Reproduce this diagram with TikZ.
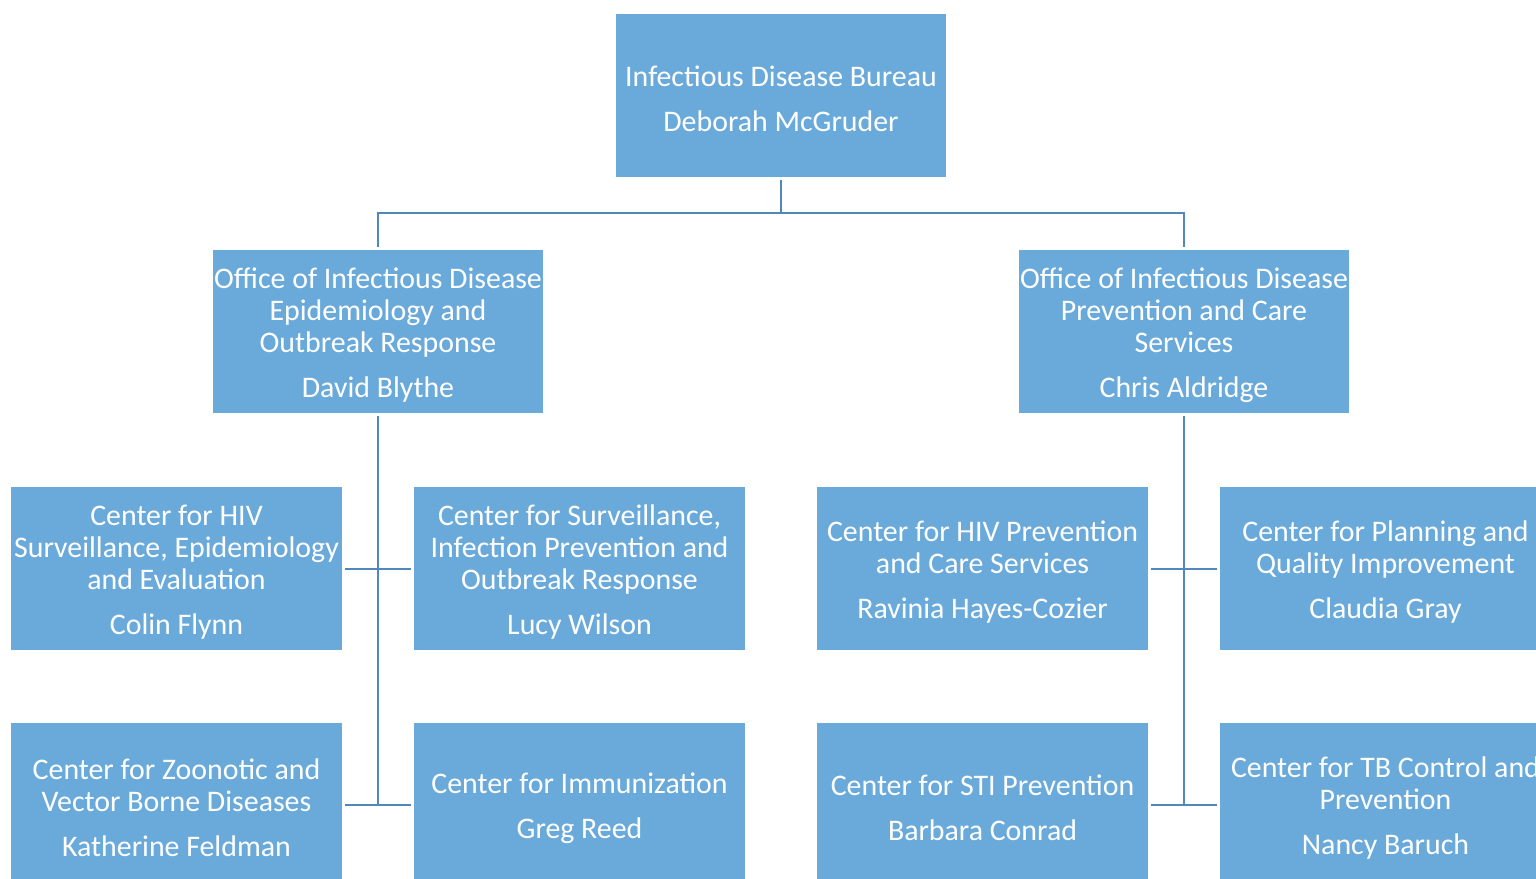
\documentclass[tikz,border=0pt]{standalone}
\usepackage{fontspec}
\setmainfont{Carlito}
\usetikzlibrary{calc}
\definecolor{boxblue}{RGB}{106,170,219}
\definecolor{lineblue}{RGB}{80,135,188}
\newcommand{\lift}{\rule{0pt}{16pt}}

\begin{document}
\begin{tikzpicture}[x=0.02cm, y=-0.02cm,
		unit/.style={fill=boxblue, text=white, align=center, minimum width=6.62cm, minimum height=3.26cm, inner sep=0pt, outer sep=0.06cm, font=\fontsize{17}{18.2}\selectfont},
		link/.style={draw=lineblue, line width=0.04cm}]
		% Page
		\clip (0,0) rectangle (1536,879);
		\fill[white] (0,0) rectangle (1536,879);
		
		% Bureau
		\node[unit] (bureau) at (781,95.5) {\lift Infectious Disease Bureau\\[7.4pt]Deborah McGruder};
		
		% Offices
		\node[unit] (epi) at (378,331.5) {\lift Office of Infectious Disease\\Epidemiology and\\Outbreak Response\\[7.4pt]David Blythe};
		\node[unit] (prev) at (1184,331.5) {\lift Office of Infectious Disease\\Prevention and Care\\Services\\[7.4pt]Chris Aldridge};
		
		% Centers, first row
		\node[unit] (hiv) at (176.5,568.5) {\lift Center for HIV\\Surveillance, Epidemiology\\and Evaluation\\[7.4pt]Colin Flynn};
		\node[unit] (surv) at (579.5,568.5) {\lift Center for Surveillance,\\Infection Prevention and\\Outbreak Response\\[7.4pt]Lucy Wilson};
		\node[unit] (hivp) at (982.5,568.5) {\lift Center for HIV Prevention\\and Care Services\\[7.4pt]Ravinia Hayes-Cozier};
		\node[unit] (plan) at (1385.5,568.5) {\lift Center for Planning and\\Quality Improvement\\[7.4pt]Claudia Gray};
		
		% Centers, second row
		\node[unit] (zoo) at (176.5,804.5) {\lift Center for Zoonotic and\\Vector Borne Diseases\\[7.4pt]Katherine Feldman};
		\node[unit] (imm) at (579.5,804.5) {\lift Center for Immunization\\[7.4pt]Greg Reed};
		\node[unit] (sti) at (982.5,804.5) {\lift Center for STI Prevention\\[7.4pt]Barbara Conrad};
		\node[unit] (tb) at (1385.5,804.5) {\lift Center for TB Control and\\Prevention\\[7.4pt]Nancy Baruch};
		
		% Junctions
		\coordinate (split) at (781,213);
		\coordinate (epiend) at (378,804.5);
		\coordinate (prevend) at (1184,804.5);
		
		% Links to the offices
		\draw[link] (bureau.south) -- (split);
		\draw[link] (epi.north) |- (split) -| (prev.north);
		
		% Links to the centers
		\draw[link] (epi.south) -- (epiend);
		\draw[link] (prev.south) -- (prevend);
		\foreach \a/\b in {hiv/surv, zoo/imm, hivp/plan, sti/tb} {
			\draw[link] (\a.east) -- (\b.west);
		}
		
	\end{tikzpicture}
\end{document}
